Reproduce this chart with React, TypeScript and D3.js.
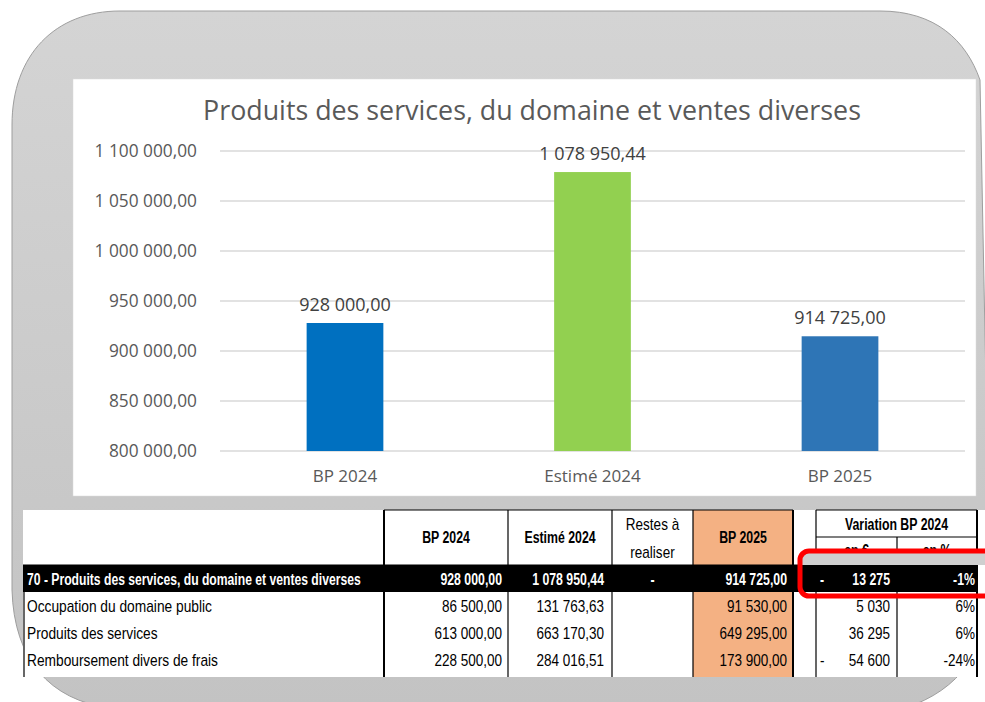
import * as d3 from "d3";

// chart data
const categories = ["BP 2024", "Estimé 2024", "BP 2025"];
const values = [928000, 1078950.44, 914725];
const barColors = ["#0070C0", "#92D050", "#2E75B6"];
const title = "Produits des services, du domaine et ventes diverses";

// table data
const rowLabels = [
  "70 - Produits des services, du domaine et ventes diverses",
  "Occupation du domaine public",
  "Produits des services",
  "Remboursement divers de frais",
];
const bp2024 = [928000, 86500, 613000, 228500];
const estime2024 = [1078950.44, 131763.63, 663170.3, 284016.51];
const restes = ["-", "", "", ""];
const bp2025 = [914725, 91530, 649295, 173900];
const varEuro = [-13275, 5030, 36295, -54600];
const varPct = [-1, 6, 6, -24];

const fr = d3.formatLocale({ decimal: ",", thousands: " ", grouping: [3], currency: ["", " €"] });
const fmt2 = fr.format(",.2f");
const fmt0 = fr.format(",.0f");

const W = 985;
const H = 702;
const chartFont = "'Open Sans', 'DejaVu Sans', sans-serif";
const tableFont = "'Liberation Sans', Arial, sans-serif";

// narrow text: Liberation Sans squeezed horizontally to look like Calibri
const T = ({ x, y, sx, anchor = "start", bold = false, fill = "#000", children }: any) => (
  <text
    transform={`translate(${x},${y}) scale(${sx},1)`}
    textAnchor={anchor}
    fontWeight={bold ? "bold" : "normal"}
    fill={fill}
  >
    {children}
  </text>
);

export default function App() {
  const y = d3.scaleLinear([800000, 1100000], [451, 151]);
  const x = d3.scaleBand(categories, [220, 965]).paddingInner(0.69).paddingOuter(0.35);
  const ticks = y.ticks(7);

  // table layout
  const colX = [24, 384, 508, 612, 693, 793, 816, 897, 977];
  const top = 510;
  const subTop = 537;
  const rowTop = 565;
  const rowH = 27;
  const bottom = 677;
  const sxB = 0.77;
  const sxR = 0.845;

  const cellY = (i: number) => rowTop + i * rowH + rowH / 2 + 6;

  return (
    <svg width={W} height={H} style={{ position: "absolute", left: 0, top: 0 }}>
      <defs>
        <linearGradient id="bg" x1="0" y1="0" x2="0" y2="1">
          <stop offset="0" stopColor="#d4d4d4" />
          <stop offset="1" stopColor="#c3c3c3" />
        </linearGradient>
      </defs>
      <rect width={W} height={H} fill="#fff" />
      {/* rounded grey frame */}
      <path
        d="M120 11 L880 11 C935 11 966 40 980 80 L990 590 C988 650 960 690 905 708 L110 708 C50 700 14 660 12 590 L12 125 C12 55 55 11 120 11 Z"
        fill="url(#bg)"
        stroke="#9e9e9e"
        strokeWidth={1}
      />

      {/* chart panel */}
      <rect x={73} y={79} width={903} height={417} fill="#fff" stroke="#d9d9d9" strokeWidth={0.5} />
      <text x={532} y={120} textAnchor="middle" fontFamily={chartFont} fontSize={26.8} fill="#595959">
        {title}
      </text>
      <g>
        {ticks.map((t) => (
          <g key={t}>
            <line x1={220} x2={965} y1={y(t)} y2={y(t)} stroke="#d9d9d9" strokeWidth={1.3} />
            <text x={197} y={y(t) + 6} textAnchor="end" fontFamily={chartFont} fontSize={17.3} fill="#595959">
              {fmt2(t)}
            </text>
          </g>
        ))}
      </g>
      {categories.map((c, i) => (
        <g key={c}>
          <rect x={x(c)} y={y(values[i])} width={x.bandwidth()} height={y(800000) - y(values[i])} fill={barColors[i]} />
          <text
            x={(x(c) as number) + x.bandwidth() / 2}
            y={y(values[i]) - 12}
            textAnchor="middle"
            fontFamily={chartFont}
            fontSize={18}
            fill="#404040"
          >
            {fmt2(values[i])}
          </text>
          <text
            x={(x(c) as number) + x.bandwidth() / 2}
            y={482}
            textAnchor="middle"
            fontFamily={chartFont}
            fontSize={17}
            fill="#595959"
          >
            {c}
          </text>
        </g>
      ))}

      {/* table */}
      <rect x={23} y={top} width={W - 23} height={bottom - top} fill="#fff" />
      <rect x={colX[4]} y={top} width={colX[5] - colX[4]} height={bottom - top} fill="#F4B183" />
      <rect x={23} y={rowTop} width={colX[8] - 23} height={rowH} fill="#000" />

      <g fontFamily={tableFont} fontSize={16}>
        <T x={(colX[1] + colX[2]) / 2} y={543} sx={sxB} anchor="middle" bold>BP 2024</T>
        <T x={(colX[2] + colX[3]) / 2} y={543} sx={sxB} anchor="middle" bold>Estimé 2024</T>
        <T x={(colX[3] + colX[4]) / 2} y={530} sx={sxR} anchor="middle">Restes à</T>
        <T x={(colX[3] + colX[4]) / 2} y={558} sx={sxR} anchor="middle">realiser</T>
        <T x={(colX[4] + colX[5]) / 2} y={543} sx={sxB} anchor="middle" bold>BP 2025</T>
        <T x={(colX[6] + colX[8]) / 2} y={530} sx={sxB} anchor="middle" bold>Variation BP 2024</T>
        <T x={(colX[6] + colX[7]) / 2} y={556} sx={sxB} anchor="middle" bold>en €</T>
        <T x={(colX[7] + colX[8]) / 2} y={556} sx={sxB} anchor="middle" bold>en %</T>
      </g>

      <g fontFamily={tableFont} fontSize={16}>
        {rowLabels.map((label, i) => {
          const fill = i === 0 ? "#fff" : "#000";
          const bold = i === 0;
          const sx = bold ? sxB : sxR;
          const yy = cellY(i);
          return (
            <g key={label}>
              <T x={27} y={yy} sx={bold ? 0.76 : 0.86} bold={bold} fill={fill}>{label}</T>
              <T x={colX[2] - 6} y={yy} sx={sx} anchor="end" bold={bold} fill={fill}>{fmt2(bp2024[i])}</T>
              <T x={colX[3] - 8} y={yy} sx={sx} anchor="end" bold={bold} fill={fill}>{fmt2(estime2024[i])}</T>
              <T x={(colX[3] + colX[4]) / 2} y={yy} sx={sx} anchor="middle" bold={bold} fill={fill}>{restes[i]}</T>
              <T x={colX[5] - 6} y={yy} sx={sx} anchor="end" bold={bold} fill={fill}>{fmt2(bp2025[i])}</T>
              {varEuro[i] < 0 && <T x={colX[6] + 4} y={yy} sx={sx} bold={bold} fill={fill}>-</T>}
              <T x={colX[7] - 7} y={yy} sx={sx} anchor="end" bold={bold} fill={fill}>{fmt0(Math.abs(varEuro[i]))}</T>
              <T x={colX[8] - 2} y={yy} sx={sx} anchor="end" bold={bold} fill={fill}>{varPct[i] + "%"}</T>
            </g>
          );
        })}
      </g>

      {/* borders */}
      <g stroke="#000" strokeWidth={1.2}>
        <line x1={colX[1]} x2={colX[5]} y1={top} y2={top} />
        <line x1={colX[6]} x2={colX[8]} y1={top} y2={top} />
        <line x1={colX[6]} x2={colX[8]} y1={subTop} y2={subTop} />
        <line x1={23} x2={colX[8]} y1={rowTop} y2={rowTop} />
        <line x1={colX[0]} x2={colX[0]} y1={rowTop} y2={bottom} />
        <line x1={colX[1]} x2={colX[1]} y1={top} y2={bottom} strokeWidth={2} />
        <line x1={colX[2]} x2={colX[2]} y1={top} y2={bottom} />
        <line x1={colX[3]} x2={colX[3]} y1={top} y2={bottom} />
        <line x1={colX[4]} x2={colX[4]} y1={top} y2={bottom} />
        <line x1={colX[5]} x2={colX[5]} y1={top} y2={bottom} strokeWidth={2} />
        <line x1={colX[6]} x2={colX[6]} y1={top} y2={bottom} />
        <line x1={colX[7]} x2={colX[7]} y1={subTop} y2={bottom} />
        <line x1={colX[8]} x2={colX[8]} y1={top} y2={bottom} strokeWidth={2} />
      </g>

      {/* highlight box */}
      <rect x={800} y={553} width={W - 800} height={12} fill="#cfcfcf" />
      <rect x={800} y={551} width={210} height={45} rx={9} fill="none" stroke="#ff0000" strokeWidth={5} />
    </svg>
  );
}
